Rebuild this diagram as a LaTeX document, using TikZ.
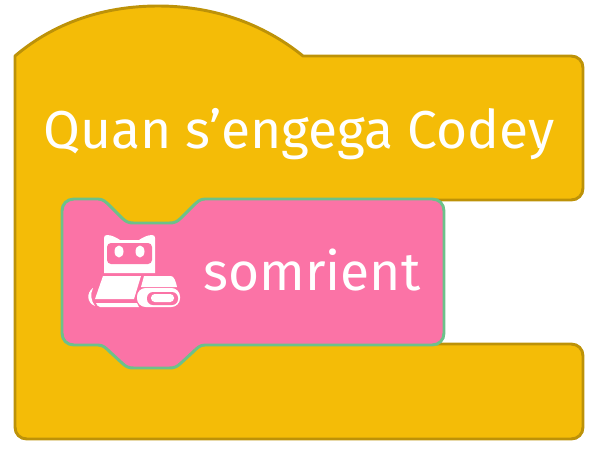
\documentclass[tikz,border=0pt]{standalone}
\usepackage{fontspec}
\setmainfont{Fira Sans}
\definecolor{hatyellow}{HTML}{F4BC07}
\definecolor{hatedge}{HTML}{BD9208}
\definecolor{blockpink}{HTML}{FB73A6}
\definecolor{blockedge}{HTML}{6CC18A}
\tikzset{
	hatblock/.style={fill=hatyellow,draw=hatedge,line width=2.2pt,line join=round},
	pinkblock/.style={fill=blockpink,draw=blockedge,line width=2.2pt,line join=round},
	iconpart/.style={fill=white,draw=none},
	iconhole/.style={fill=blockpink,draw=none},
	blocktext/.style={text=white,anchor=base,inner sep=0pt}
}
\begin{document}
\begin{tikzpicture}[x=0.75pt,y=-0.75pt]
	\useasboundingbox (0,0) rectangle (598,450);

	% hat block
	\draw [hatblock] (15,56) .. controls (55,22) and (105,6) .. (158,6)
		.. controls (211,6) and (261,22) .. (303,56)
		-- (571,56) .. controls (578,56) and (583,61) .. (583,68)
		-- (583,188) .. controls (583,195) and (578,200) .. (571,200)
		-- (300,200) -- (300,344)
		-- (571,344) .. controls (578,344) and (583,349) .. (583,356)
		-- (583,427) .. controls (583,434) and (578,439) .. (571,439)
		-- (27,439) .. controls (20,439) and (15,434) .. (15,427)
		-- cycle;

	% stack block
	\draw [pinkblock] (62,211) .. controls (62,204) and (67,199) .. (74,199)
		-- (98,199) .. controls (103,199) and (106,202) .. (110,206)
		-- (122,218) .. controls (126,222) and (129,223) .. (134,223)
		-- (169,223) .. controls (174,223) and (177,222) .. (181,218)
		-- (193,206) .. controls (197,202) and (200,199) .. (205,199)
		-- (432,199) .. controls (439,199) and (444,204) .. (444,211)
		-- (444,333) .. controls (444,340) and (439,345) .. (432,345)
		-- (205,345) .. controls (200,345) and (197,348) .. (193,352)
		-- (181,363) .. controls (177,367) and (174,368) .. (169,368)
		-- (134,368) .. controls (129,368) and (126,367) .. (122,363)
		-- (110,352) .. controls (106,348) and (103,345) .. (98,345)
		-- (74,345) .. controls (67,345) and (62,340) .. (62,333)
		-- cycle;

	% icon
	\fill [iconpart] (104,238) .. controls (104,236) and (105,235) .. (107,235)
		.. controls (112,235) and (117,238) .. (120,240)
		-- (139,240) .. controls (142,238) and (147,235) .. (152,235)
		.. controls (154,235) and (155,236) .. (155,238)
		-- (155,273) -- (104,273) -- cycle;
	\fill [iconhole, rounded corners=3pt] (107,243) rectangle (152,264);
	\fill [iconpart] (119,251.5) ellipse [x radius=4.5, y radius=6];
	\fill [iconpart] (140,251.5) ellipse [x radius=4.5, y radius=6];
	\fill [iconpart] (103,276) -- (141,276) -- (134,299) -- (95,299) -- cycle;
	\fill [iconpart] (96,303) -- (137,303) -- (139,307) -- (100,307) .. controls (98,307) and (97,305) .. (96,303) -- cycle;
	\fill [iconpart] (93,288) .. controls (86,293) and (87,303) .. (95,306) .. controls (91,301) and (90,294) .. (93,288) -- cycle;
	\fill [iconpart] (144,276) -- (171,276) .. controls (174,276) and (176,282) .. (177,287) -- (141,287) -- cycle;
	\fill [iconpart, rounded corners=6.5pt] (137,288) rectangle (180,307);
	\fill [iconhole, rounded corners=4.5pt] (147,292) rectangle (178,305);
	\fill [iconpart, rounded corners=2.8pt] (151,294) rectangle (174,302);

	\node [blocktext, font=\fontsize{40}{40}\selectfont] (hatlabel) at (299,148) {Quan s\symbol{39}engega Codey};
	\node [blocktext, font=\fontsize{40}{40}\selectfont] (blocklabel) at (312,290) {somrient};
\end{tikzpicture}
\end{document}
